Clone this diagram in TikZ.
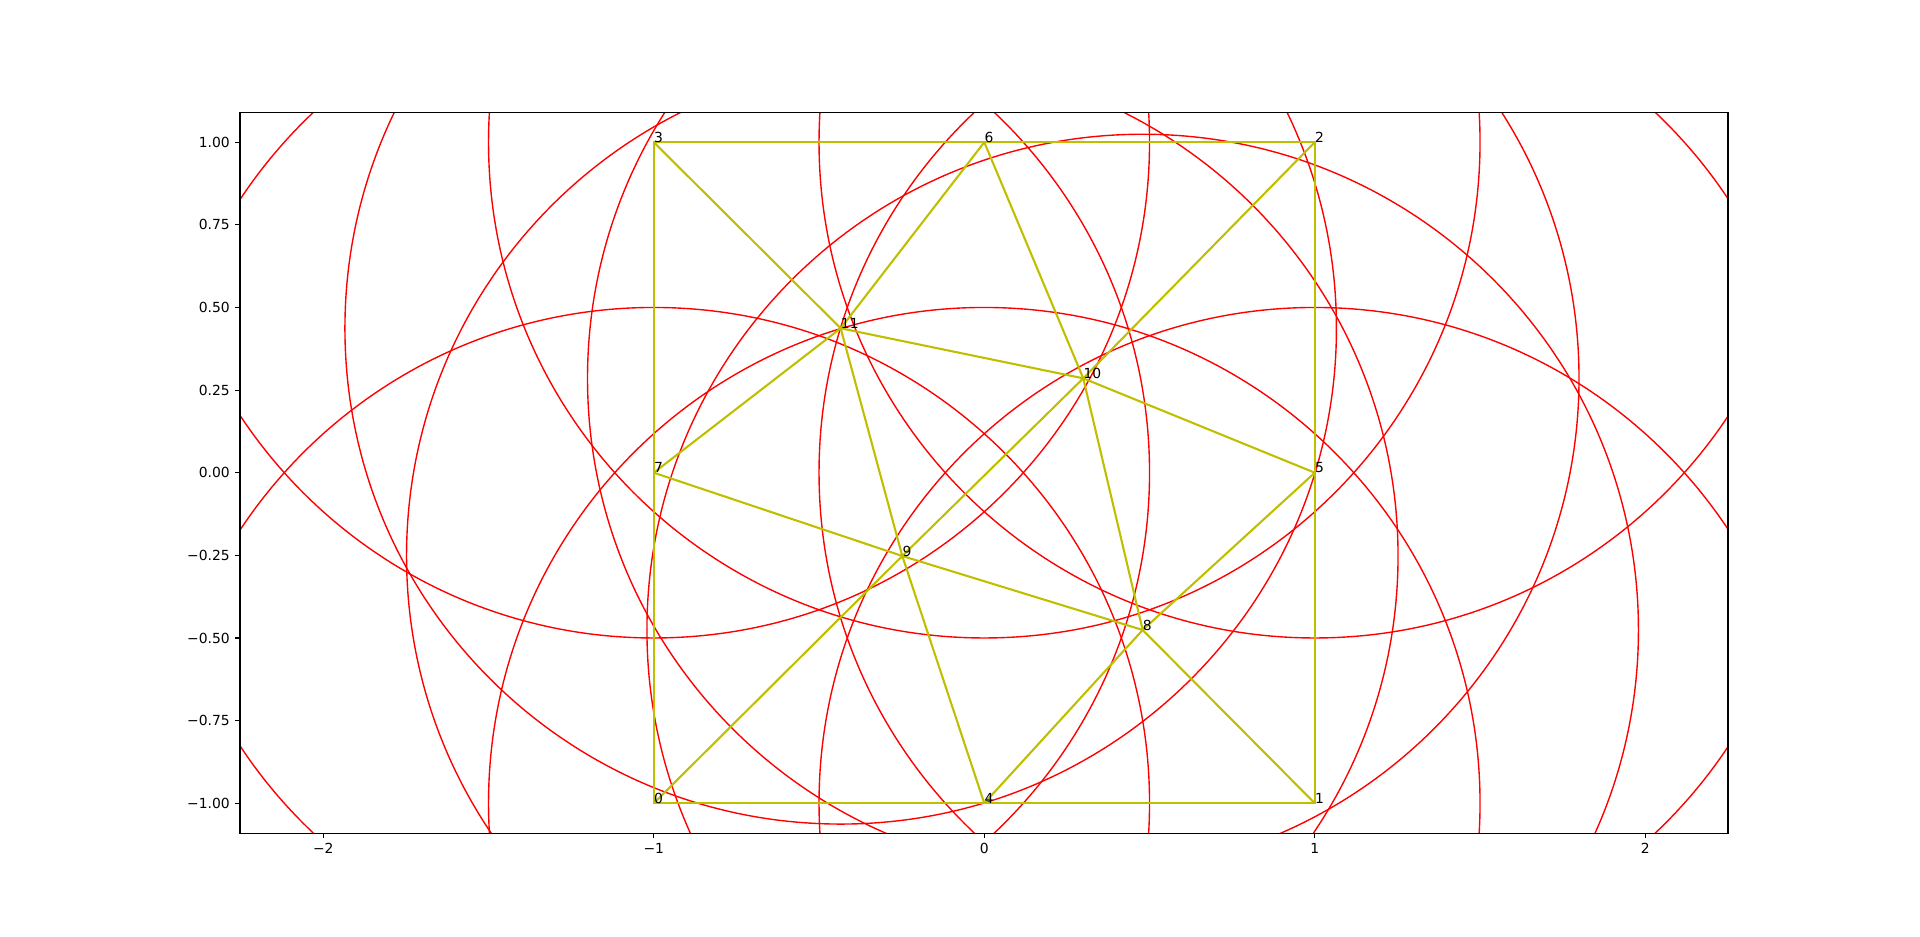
\documentclass[tikz,border=0pt]{standalone}
\usepackage{fontspec}
\setmainfont{DejaVu Sans}
\definecolor{myyellow}{rgb}{0.75,0.75,0}
\begin{document}
\begin{tikzpicture}[x=237.96pt,y=237.96pt,
  edge/.style={myyellow, line width=1.5pt},
  ring/.style={red, line width=1pt},
  lbl/.style={anchor=base west, inner sep=0pt, font=\fontsize{10}{12}\selectfont},
  tickmark/.style={black, line width=0.8pt},
  ticklbl/.style={inner sep=0pt, font=\fontsize{10}{12}\selectfont},
  spine/.style={black, line width=0.8pt}]
\useasboundingbox (-2.9782,-1.4018) rectangle (2.8312,1.4303);
\coordinate (p0) at (-1,-1);
\coordinate (p1) at (1,-1);
\coordinate (p2) at (1,1);
\coordinate (p3) at (-1,1);
\coordinate (p4) at (0,-1);
\coordinate (p5) at (1,0);
\coordinate (p6) at (0,1);
\coordinate (p7) at (-1,0);
\coordinate (p8) at (0.4793,-0.4759);
\coordinate (p9) at (-0.2481,-0.2520);
\coordinate (p10) at (0.2995,0.2856);
\coordinate (p11) at (-0.4345,0.4369);
\coordinate (axll) at (-2.2520,-1.0903);
\coordinate (axur) at (2.2503,1.0904);
% circles
\begin{scope}
\clip (axll) rectangle (axur);
\foreach \i in {0,...,11} \draw[ring] (p\i) circle[radius=1.5];
\end{scope}
% edges
\draw[edge] (p0) -- (p4) -- (p1) -- (p5) -- (p2) -- (p6) -- (p3) -- (p7) -- cycle;
\draw[edge] (p0) -- (p9) -- (p10) -- (p2);
\draw[edge] (p3) -- (p11) -- (p10) -- (p5);
\draw[edge] (p6) -- (p11) -- (p7);
\draw[edge] (p6) -- (p10) -- (p8) -- (p1);
\draw[edge] (p11) -- (p9) -- (p4);
\draw[edge] (p7) -- (p9) -- (p8);
\draw[edge] (p4) -- (p8) -- (p5);
% labels
\foreach \i in {0,...,11} \node[lbl] (l\i) at (p\i) {\i};
% axes
\draw[spine] (axll) rectangle (axur);
\foreach \x/\t in {-2/−2,-1/−1,0/0,1/1,2/2}
  \draw[tickmark] (\x,-1.0903) -- ++(0,-3.5pt) node[ticklbl, anchor=north, yshift=-3.5pt] (xt\x) {\t};
\foreach \y/\t in {-1/−1.00,-0.75/−0.75,-0.5/−0.50,-0.25/−0.25,0/0.00,0.25/0.25,0.5/0.50,0.75/0.75,1/1.00}
  \draw[tickmark] (-2.2520,\y) -- ++(-3.5pt,0) node[ticklbl, anchor=east, xshift=-3.5pt] (yt\y) {\t};
\end{tikzpicture}
\end{document}
